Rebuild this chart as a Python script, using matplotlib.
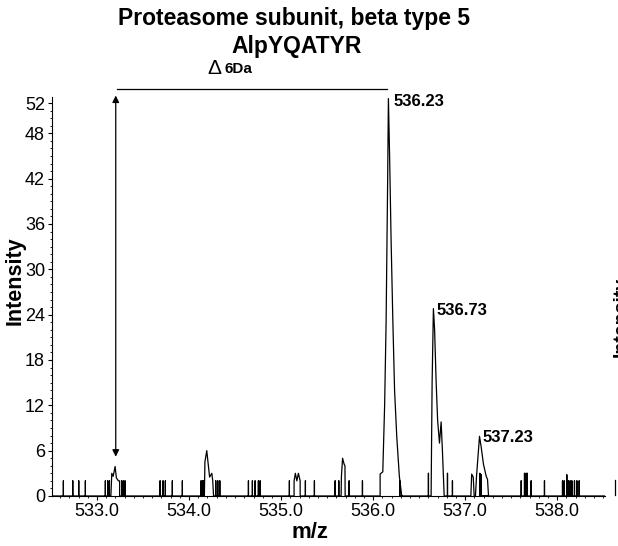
import numpy as np
import matplotlib
matplotlib.use("Agg")
import matplotlib.pyplot as plt
from matplotlib.ticker import MultipleLocator, FixedLocator, FormatStrFormatter

plt.rcParams['font.family'] = ['Liberation Sans', 'DejaVu Sans']

# noise sticks (m/z, intensity)
noise_mz = [532.634, 532.736, 532.801, 532.873, 533.090, 533.116, 533.134,
            533.268, 533.286, 533.304, 533.685, 533.717, 533.742, 533.818,
            533.927, 534.130, 534.145, 534.160, 534.290, 534.312, 534.334,
            534.645, 534.688, 534.717, 534.753, 534.772, 535.090, 535.264,
            535.362, 535.587, 535.627, 535.739, 535.884, 536.289, 536.601,
            536.808, 536.862, 537.160, 537.174, 537.609, 537.645, 537.663,
            537.674, 537.717, 537.862, 538.058, 538.076, 538.105, 538.123,
            538.141, 538.160, 538.188, 538.214, 538.239]
noise_int = [2, 2, 2, 2, 2, 2, 2,
             2, 2, 2, 2, 2, 2, 2,
             2, 2, 2, 2, 2, 2, 2,
             2, 2, 2, 2, 2, 2, 2,
             2, 2, 2, 2, 2, 2, 3,
             3, 2, 3, 2.8, 2, 3, 3,
             3, 2, 2, 2, 2, 2.8, 2,
             2, 2, 2, 2, 2]

# peak profiles
p533_mz = [533.150, 533.160, 533.175, 533.196, 533.210, 533.232, 533.245, 533.245]
p533_int = [0, 3.0, 2.6, 3.9, 2.4, 2.0, 2.0, 0]

p534_mz = [534.166, 534.172, 534.192, 534.210, 534.223, 534.247, 534.257, 534.266]
p534_int = [0, 4.5, 6.0, 4.0, 2.5, 3.0, 2.0, 0]

p535_mz = [535.141, 535.141, 535.155, 535.171, 535.188, 535.207, 535.207]
p535_int = [0, 2.0, 3.0, 2.0, 3.0, 2.0, 0]

p535b_mz = [535.652, 535.655, 535.668, 535.685, 535.694, 535.696]
p535b_int = [0, 2.5, 5.0, 4.2, 4.0, 0]

p536_mz = [536.076, 536.076, 536.105, 536.125, 536.141, 536.158, 536.166,
           536.179, 536.195, 536.214, 536.233, 536.257, 536.272, 536.285, 536.311]
p536_int = [0, 2.9, 3.2, 12, 23, 42, 52.6,
            45, 34, 23.3, 14, 7.8, 5.0, 2.6, 0]

p536b_mz = [536.630, 536.641, 536.655, 536.668, 536.685, 536.701, 536.721, 536.739, 536.753, 536.772]
p536b_int = [0, 15, 24.8, 22, 15, 10, 7.0, 9.8, 6.0, 0]

p537_mz = [537.062, 537.071, 537.088, 537.098, 537.112, 537.123, 537.156,
           537.174, 537.199, 537.229, 537.243, 537.254]
p537_int = [0, 2.9, 2.5, 0, 0, 2.5, 7.9,
            6.5, 4.2, 2.6, 2.2, 0]

labels = ["536.23", "536.73", "537.23"]
label_pos = [(536.22, 52.2), (536.69, 24.6), (537.19, 7.8)]

# build one continuous trace
segments = [list(zip([m, m, m], [0, h, 0])) for m, h in zip(noise_mz, noise_int)]
for xs, ys in [(p533_mz, p533_int), (p534_mz, p534_int), (p535_mz, p535_int),
               (p535b_mz, p535b_int), (p536_mz, p536_int), (p536b_mz, p536b_int),
               (p537_mz, p537_int)]:
    segments.append(list(zip(xs, ys)))
segments.sort(key=lambda s: s[0][0])
trace = [(532.5, 0)] + [p for s in segments for p in s] + [(538.52, 0)]
tx = [p[0] for p in trace]
ty = [p[1] for p in trace]

fig = plt.figure(figsize=(6.18, 5.46), dpi=100)
ax = fig.add_axes([0.0841, 0.0916, 0.8949, 0.7307])
ax.plot(tx, ty, color='black', linewidth=0.9)

ax.set_xlim(532.51, 538.52)
ax.set_ylim(0, 52.8)
ax.spines['top'].set_visible(False)
ax.spines['right'].set_visible(False)
ax.xaxis.set_major_locator(MultipleLocator(1.0))
ax.xaxis.set_minor_locator(MultipleLocator(0.1))
ax.xaxis.set_major_formatter(FormatStrFormatter('%.1f'))
ax.yaxis.set_major_locator(FixedLocator([0, 6, 12, 18, 24, 30, 36, 42, 48, 52]))
ax.yaxis.set_minor_locator(MultipleLocator(1))
ax.tick_params(which='major', length=3, width=0.8, labelsize=13, pad=2)
ax.tick_params(which='minor', length=1.5, width=0.6)

ax.set_xlabel('m/z', fontsize=16, fontweight='bold')
ax.xaxis.set_label_coords(0.467, -0.064)
ax.set_ylabel('Intensity', fontsize=15.5, fontweight='bold')
ax.yaxis.set_label_coords(-0.047, 0.54)

for lab, (x, y) in zip(labels, label_pos):
    ax.text(x, y, lab, fontsize=12, fontweight='bold', va='center', ha='left')

# delta annotation
ax.annotate('', xy=(533.203, 53.0), xytext=(533.203, 5.2),
            arrowprops=dict(arrowstyle='<|-|>', color='black', lw=0.9,
                            mutation_scale=10, shrinkA=0, shrinkB=0),
            annotation_clip=False)
ax.plot([533.217, 536.149], [53.85, 53.85], color='black', linewidth=0.9, clip_on=False)
fig.text(0.335, 0.875, '\u0394', fontsize=15, ha='left', va='center')
fig.text(0.363, 0.874, '6Da', fontsize=11, fontweight='bold', ha='left', va='center')

fig.text(0.476, 0.966, 'Proteasome subunit, beta type 5', fontsize=16.5, fontweight='bold',
         ha='center', va='center')
fig.text(0.48, 0.914, 'AlpYQATYR', fontsize=16.5, fontweight='bold', ha='center', va='center')

# edge of the neighbouring panel
fig.text(1.005, 0.42, 'Intensity', fontsize=14, fontweight='bold', rotation=90,
         ha='center', va='center')
fig.add_artist(plt.Line2D([0.995, 0.995], [0.093, 0.12], color='black', linewidth=0.9))

fig.savefig('out.png', dpi=100)
